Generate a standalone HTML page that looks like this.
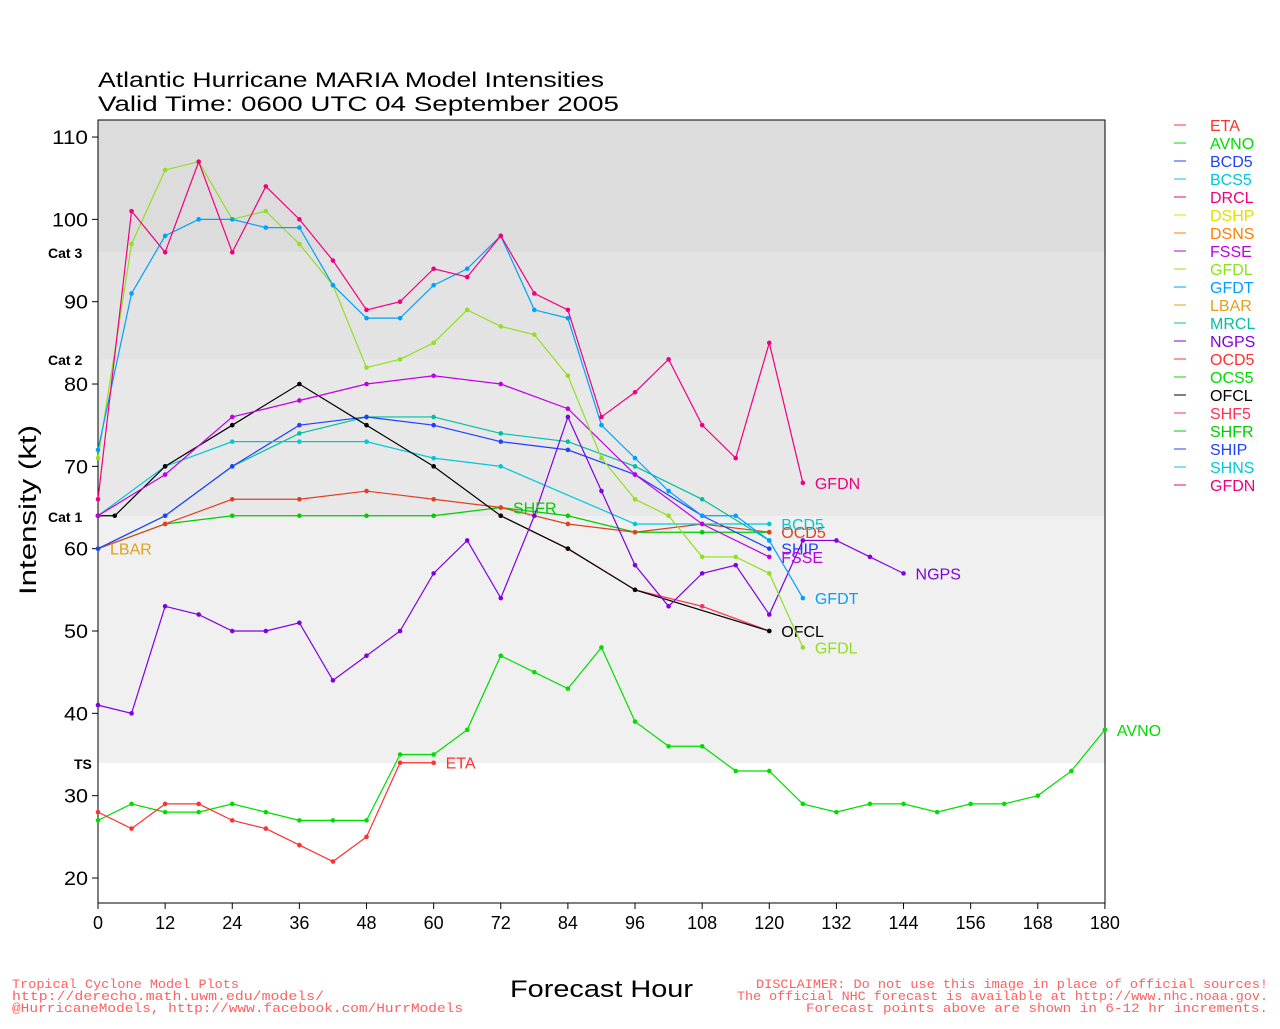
<!DOCTYPE html>
<html><head><meta charset="utf-8"><style>
body{margin:0;background:#fff;width:1280px;height:1024px;overflow:hidden}
svg{font-family:"Liberation Sans",sans-serif}
</style></head><body>
<svg id="s" width="1280" height="1024" xmlns="http://www.w3.org/2000/svg">
<rect x="98" y="120" width="1007" height="132" fill="#dcdcdc"/>
<rect x="98" y="252" width="1007" height="107" fill="#e3e3e3"/>
<rect x="98" y="359" width="1007" height="157" fill="#e8e8e8"/>
<rect x="98" y="516" width="1007" height="247" fill="#f0f0f0"/>
<rect x="98" y="120" width="1007" height="783" fill="none" stroke="#000" stroke-width="1"/>
<text x="98" y="87" font-size="21" textLength="506" lengthAdjust="spacingAndGlyphs">Atlantic Hurricane MARIA Model Intensities</text>
<text x="98" y="111" font-size="21" textLength="521" lengthAdjust="spacingAndGlyphs">Valid Time: 0600 UTC 04 September 2005</text>
<text x="48" y="258" font-size="14" font-weight="bold">Cat 3</text>
<text x="48" y="365" font-size="14" font-weight="bold">Cat 2</text>
<text x="48" y="522" font-size="14" font-weight="bold">Cat 1</text>
<text x="74" y="769" font-size="14" font-weight="bold">TS</text>
<text transform="translate(36,510) rotate(-90)" text-anchor="middle" font-size="24" textLength="170" lengthAdjust="spacingAndGlyphs">Intensity (kt)</text>
<text x="510" y="997" font-size="24" textLength="183" lengthAdjust="spacingAndGlyphs">Forecast Hour</text>
<g fill="#ff6060" font-size="13" font-family="Liberation Mono,monospace">
<text x="12" y="988" textLength="227" lengthAdjust="spacingAndGlyphs">Tropical Cyclone Model Plots</text>
<text x="12" y="1000" textLength="312" lengthAdjust="spacingAndGlyphs">http://derecho.math.uwm.edu/models/</text>
<text x="12" y="1012" textLength="451" lengthAdjust="spacingAndGlyphs">@HurricaneModels, http://www.facebook.com/HurrModels</text>
<text x="756" y="988" textLength="512" lengthAdjust="spacingAndGlyphs">DISCLAIMER: Do not use this image in place of official sources!</text>
<text x="737" y="1000" textLength="531" lengthAdjust="spacingAndGlyphs">The official NHC forecast is available at http://www.nhc.noaa.gov.</text>
<text x="806" y="1012" textLength="462" lengthAdjust="spacingAndGlyphs">Forecast points above are shown in 6-12 hr increments.</text>
</g>
<g id="ax"></g><g id="ser"></g><g id="leg"></g>
</svg>
<script>
var NS="http://www.w3.org/2000/svg";
function X(h){return 98+h*5.594}function Y(v){return 878-(v-20)*8.233}
function el(p,t,a,txt){var e=document.createElementNS(NS,t);for(var k in a)e.setAttribute(k,a[k]);if(txt!=null)e.textContent=txt;document.getElementById(p).appendChild(e);return e}
for(var v=20;v<=110;v+=10){el("ax","line",{x1:92,x2:98,y1:Y(v),y2:Y(v),stroke:"#000"});var a={x:88,y:Y(v)+7,"text-anchor":"end","font-size":19};if(v>=100){a.textLength=36;a.lengthAdjust="spacingAndGlyphs"}else{a.textLength=24;a.lengthAdjust="spacingAndGlyphs"}el("ax","text",a,v)}
for(var h=0;h<=180;h+=12){el("ax","line",{x1:X(h),x2:X(h),y1:903,y2:909,stroke:"#000"});el("ax","text",{x:X(h),y:929,"text-anchor":"middle","font-size":18},h)}
function S(c,pts,lab,dy){var d=[];for(var i=0;i<pts.length;i+=2)d.push(X(pts[i])+","+Y(pts[i+1]));
el("ser","polyline",{points:d.join(" "),fill:"none",stroke:c,"stroke-width":1.2});
for(i=0;i<pts.length;i+=2)el("ser","circle",{cx:X(pts[i]),cy:Y(pts[i+1]),r:2.3,fill:c});
if(lab){var n=pts.length;el("ser","text",{x:X(pts[n-2])+12,y:Y(pts[n-1])+6+(dy||0),"font-size":16,fill:c},lab)}}
S("#00dd00",[0,27,6,29,12,28,18,28,24,29,30,28,36,27,42,27,48,27,54,35,60,35,66,38,72,47,78,45,84,43,90,48,96,39,102,36,108,36,114,33,120,33,126,29,132,28,138,29,144,29,150,28,156,29,162,29,168,30,174,33,180,38],"AVNO");
S("#ff3030",[0,28,6,26,12,29,18,29,24,27,30,26,36,24,42,22,48,25,54,34,60,34],"ETA");
S("#00cc00",[0,60,12,63,24,64,36,64,48,64,60,64,72,65,84,64,96,62,108,62,120,62],"");
S("#e04020",[0,60,12,63,24,66,36,66,48,67,60,66,72,65,84,63,96,62,108,63,120,62],"OCD5");
S("#00c0a0",[0,60,12,64,24,70,36,74,48,76,60,76,72,74,84,73,96,70,108,66,120,61],"");
S("#2040ff",[0,60,12,64,24,70,36,75,48,76,60,75,72,73,84,72,96,69,108,64,120,60],"SHIP");
S("#00c8d8",[0,64,12,70,24,73,36,73,48,73,60,71,72,70,96,63,108,63,120,63],"BCD5");
S("#ff3050",[72,64,84,60,96,55,108,53,120,50],"");
S("#000",[0,64,3,64,12,70,24,75,36,80,48,75,60,70,72,64,84,60,96,55,120,50],"OFCL");
S("#c000e0",[0,64,12,69,24,76,36,78,48,80,60,81,72,80,84,77,96,69,108,63,120,59],"FSSE");
S("#8000e0",[0,41,6,40,12,53,18,52,24,50,30,50,36,51,42,44,48,47,54,50,60,57,66,61,72,54,78,64,84,76,90,67,96,58,102,53,108,57,114,58,120,52,126,61,132,61,138,59,144,57],"NGPS");
S("#90e020",[0,71,6,97,12,106,18,107,24,100,30,101,36,97,42,92,48,82,54,83,60,85,66,89,72,87,78,86,84,81,90,71,96,66,102,64,108,59,114,59,120,57,126,48],"GFDL");
S("#00a0ff",[0,72,6,91,12,98,18,100,24,100,30,99,36,99,42,92,48,88,54,88,60,92,66,94,72,98,78,89,84,88,90,75,96,71,102,67,108,64,114,64,120,61,126,54],"GFDT");
S("#f00080",[0,66,6,101,12,96,18,107,24,96,30,104,36,100,42,95,48,89,54,90,60,94,66,93,72,98,78,91,84,89,90,76,96,79,102,83,108,75,114,71,120,85,126,68],"GFDN");
el("ser","text",{x:110,y:Y(60)+6,"font-size":16,fill:"#e0a020"},"LBAR");
el("ser","text",{x:513,y:Y(65)+6,"font-size":16,fill:"#00cc00"},"SHFR");
var L=[["ETA","#ff3030"],["AVNO","#00dd00"],["BCD5","#2040ff"],["BCS5","#00c8d8"],["DRCL","#f00080"],["DSHP","#e0e000"],["DSNS","#ff8000"],["FSSE","#c000e0"],["GFDL","#90e020"],["GFDT","#00a0ff"],["LBAR","#e0a020"],["MRCL","#00c0a0"],["NGPS","#8000e0"],["OCD5","#ff3030"],["OCS5","#00dd00"],["OFCL","#000"],["SHF5","#ff3050"],["SHFR","#00cc00"],["SHIP","#2040ff"],["SHNS","#00c8d8"],["GFDN","#f00080"]];
L.forEach(function(l,i){var y=125+i*18;el("leg","line",{x1:1174,x2:1186,y1:y,y2:y,stroke:l[1]});el("leg","text",{x:1210,y:y+6,"font-size":16,fill:l[1]},l[0])});
</script>
</body></html>
